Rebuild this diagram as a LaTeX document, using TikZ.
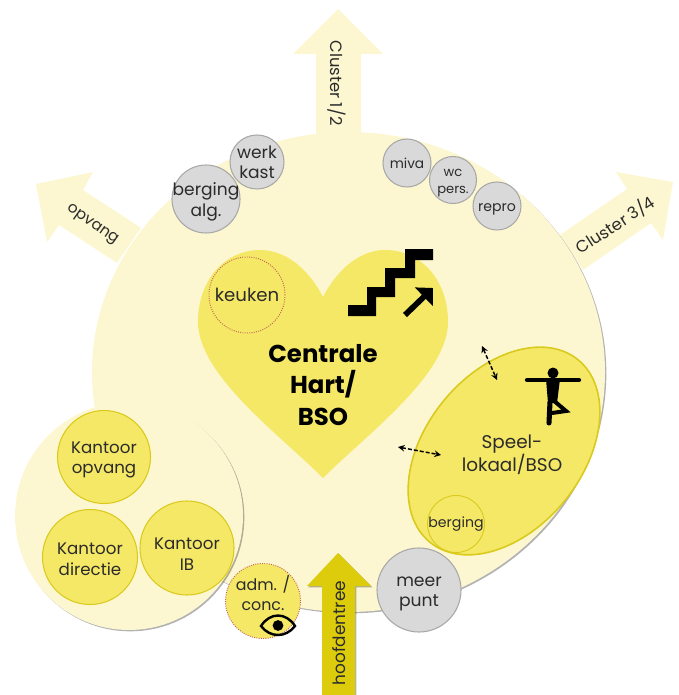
\documentclass[tikz,border=0pt]{standalone}
\usepackage{xcolor}
\usepackage{fontspec}
\setmainfont{Poppins}
\usetikzlibrary{shapes.geometric, shadows, arrows.meta}

\definecolor{palegeel}{HTML}{FCF7D1}
\definecolor{hartgeel}{HTML}{F5E866}
\definecolor{randgeel}{HTML}{DACA1E}
\definecolor{pijlgeel}{HTML}{DCCC0C}
\definecolor{grijs}{HTML}{D9D9D9}
\definecolor{grijsrand}{HTML}{A8A8A8}
\definecolor{stippel}{HTML}{C0605A}
\definecolor{tekst}{HTML}{2B2B2B}

\tikzset{
    zacht/.style={drop shadow={shadow xshift=1pt, shadow yshift=-1pt, opacity=.3, fill=black}},
    kamer/.style={circle, draw=randgeel, fill=hartgeel, line width=.8pt, minimum size=#1*.75pt, inner sep=0pt},
    grijzekamer/.style={circle, draw=grijsrand, fill=grijs, line width=.8pt, minimum size=#1*.75pt, inner sep=0pt, align=center, text=tekst, font=\fontsize{12.8}{15}\selectfont},
    stippelkamer/.style={circle, draw=stippel, densely dotted, fill=hartgeel, line width=.7pt, minimum size=#1*.75pt, inner sep=0pt, align=center, text=tekst, font=\fontsize{13.6}{15}\selectfont},
    ruimtetekst/.style={align=center, text=tekst, inner sep=0pt, font=\fontsize{12.5}{15.5}\selectfont},
    pijltekst/.style={text=tekst, inner sep=0pt, font=\fontsize{12.3}{14}\selectfont},
    dubbel/.style={{Stealth[length=5pt,width=5pt]}-{Stealth[length=5pt,width=5pt]}, dash pattern=on 3pt off 1.5pt, line width=1.1pt, black},
}

\begin{document}
\begin{tikzpicture}[x=.75pt, y=-.75pt]
        \useasboundingbox (0, 0) rectangle (678, 695);

        % pijlen naar buiten
        \fill[palegeel] (338, 9) -- (383, 54) -- (361, 54) -- (361, 140) -- (316, 140) -- (316, 54) -- (293, 54) -- cycle;
        \fill[palegeel] (36, 184) -- (93, 172) -- (83, 190) -- (141, 228) -- (117, 263) -- (59, 225) -- (47, 242) -- cycle;
        \fill[palegeel] (673, 182) -- (616, 172) -- (627, 189) -- (560, 235) -- (583, 270) -- (651, 223) -- (663, 240) -- cycle;

        \node[ellipse, fill=palegeel, zacht, minimum width=513*.75pt, minimum height=480*.75pt, inner sep=0pt] (school) at (348.5, 372) {};

        \node[pijltekst, rotate=-90] (cl12) at (337, 83) {Cluster 1/2};
        \node[pijltekst, rotate=-35, font=\fontsize{11.5}{14}\selectfont] (opvang) at (92, 225) {opvang};
        \node[pijltekst, rotate=33] (cl34) at (615, 225) {Cluster 3/4};

        % hart
        \fill[hartgeel] (323, 297) .. controls (308, 268) and (285, 250) .. (260, 250)
            .. controls (225, 250) and (198, 280) .. (198, 322)
            .. controls (198, 375) and (280, 435) .. (323, 478)
            .. controls (366, 435) and (448, 375) .. (448, 322)
            .. controls (448, 280) and (421, 250) .. (385, 250)
            .. controls (361, 250) and (338, 268) .. (323, 297) -- cycle;
        \node[align=center, inner sep=0pt, font=\fontsize{18.3}{23.5}\selectfont\bfseries] (hart) at (323, 385) {Centrale\\Hart/\\BSO};
        \node[stippelkamer=76] (keuken) at (247, 295) {keuken};

        % trap
        \fill[black] (348, 305) -- (367, 305) -- (367, 287) -- (385, 287) -- (385, 268) -- (405, 268) -- (405, 249) -- (433, 249) -- (433, 260) -- (415, 260) -- (415, 278) -- (395, 278) -- (395, 297) -- (376, 297) -- (376, 316) -- (348, 316) -- cycle;
        \coordinate (trapa) at (405, 315);
        \coordinate (trapb) at (433, 288);
        \draw[-{Triangle[length=9.5pt,width=19pt]}, line width=4.3pt, black] (trapa) -- (trapb);

        % speellokaal
        \node[ellipse, draw=randgeel, fill=hartgeel, line width=1.2pt, rotate=51, minimum width=235*.75pt, minimum height=157*.75pt, inner sep=0pt] (speel) at (504, 451) {};
        \node[align=center, text=tekst, inner sep=0pt, font=\fontsize{13.8}{17}\selectfont] (speeltekst) at (512, 455) {Speel-\\lokaal/BSO};
        \node[circle, draw=randgeel, line width=.7pt, minimum size=54*.75pt, inner sep=0pt, text=tekst, font=\fontsize{10.6}{12}\selectfont] (berging) at (456, 524) {berging};

        % persoon
        \node[circle, fill=black, minimum size=11*.75pt, inner sep=0pt] (hoofd) at (553, 373) {};
        \coordinate (handl) at (527, 380);
        \coordinate (handr) at (579, 380);
        \coordinate (heup) at (550, 402);
        \coordinate (voet) at (549, 423);
        \coordinate (knie) at (566, 411);
        \coordinate (teen) at (553, 400);
        \coordinate (enkel) at (552, 413);
        \draw[line width=3.2pt, line cap=round, black] (handl) -- (handr);
        \fill[black] (546, 379) -- (560, 379) -- (557, 403) -- (548, 403) -- cycle;
        \draw[line width=3.8pt, line cap=round, black] (heup) -- (voet);
        \draw[line width=3pt, line join=miter, black] (teen) -- (knie) -- (enkel);

        \coordinate (pijla) at (482, 346);
        \coordinate (pijlb) at (497, 380);
        \coordinate (pijlc) at (398, 447);
        \coordinate (pijld) at (441, 455);
        \draw[dubbel] (pijla) -- (pijlb);
        \draw[dubbel] (pijlc) -- (pijld);

        % kleine ruimtes boven
        \node[grijzekamer=54] (werkkast) at (257, 162) {werk\\kast};
        \node[grijzekamer=68] (bergalg) at (206, 199) {};
        \node[ruimtetekst, font=\fontsize{12.8}{15.5}\selectfont] (bergalgtekst) at (206, 202) {berging\\alg.};
        \node[grijzekamer=48, font=\fontsize{10.3}{12}\selectfont] (miva) at (407, 163) {miva};
        \node[grijzekamer=47] (wc) at (453, 180) {};
        \node[ruimtetekst, font=\fontsize{9.8}{12.5}\selectfont] (wctekst) at (453, 183) {wc\\pers.};
        \node[grijzekamer=48] (repro) at (497, 206) {};
        \node[ruimtetekst, font=\fontsize{10.6}{12}\selectfont] (reprotekst) at (497, 209) {repro};

        % kantoren
        \node[circle, fill=palegeel, zacht, minimum size=228*.75pt, inner sep=0pt] (kantoren) at (129, 516) {};
        \node[kamer=93] (kopvang) at (104, 457) {};
        \node[kamer=95] (kdirectie) at (90, 557) {};
        \node[kamer=94] (kib) at (187, 548) {};
        \node[ruimtetekst] (kopvangtekst) at (104, 460) {Kantoor\\opvang};
        \node[ruimtetekst] (kdirectietekst) at (90, 559) {Kantoor\\directie};
        \node[ruimtetekst] (kibtekst) at (187, 554) {Kantoor\\IB};

        % ingang
        \fill[pijlgeel, zacht] (338, 553) -- (371, 586) -- (355, 586) -- (355, 695) -- (322, 695) -- (322, 586) -- (307, 586) -- cycle;
        \node[pijltekst, rotate=90, font=\fontsize{12.7}{14}\selectfont] (hoofdentree) at (339, 633) {hoofdentree};
        \node[grijzekamer=84] (meerpunt) at (419, 590) {};
        \node[ruimtetekst, font=\fontsize{12.9}{15.5}\selectfont] (meerpunttekst) at (419, 594) {meer\\punt};
        \node[stippelkamer=75] (adm) at (263, 601) {};
        \node[ruimtetekst, font=\fontsize{11.9}{15}\selectfont] (admtekst) at (263, 593) {adm. /\\conc.};

        % oog
        \draw[line width=1.8pt, black] (261, 626) .. controls (270, 612) and (286, 612) .. (295, 626) .. controls (286, 638) and (270, 638) .. (261, 626) -- cycle;
        \node[circle, draw=black, line width=1.2pt, fill=black, minimum size=9*.75pt, inner sep=0pt] (pupil) at (278, 625.5) {};
\end{tikzpicture}
\end{document}
